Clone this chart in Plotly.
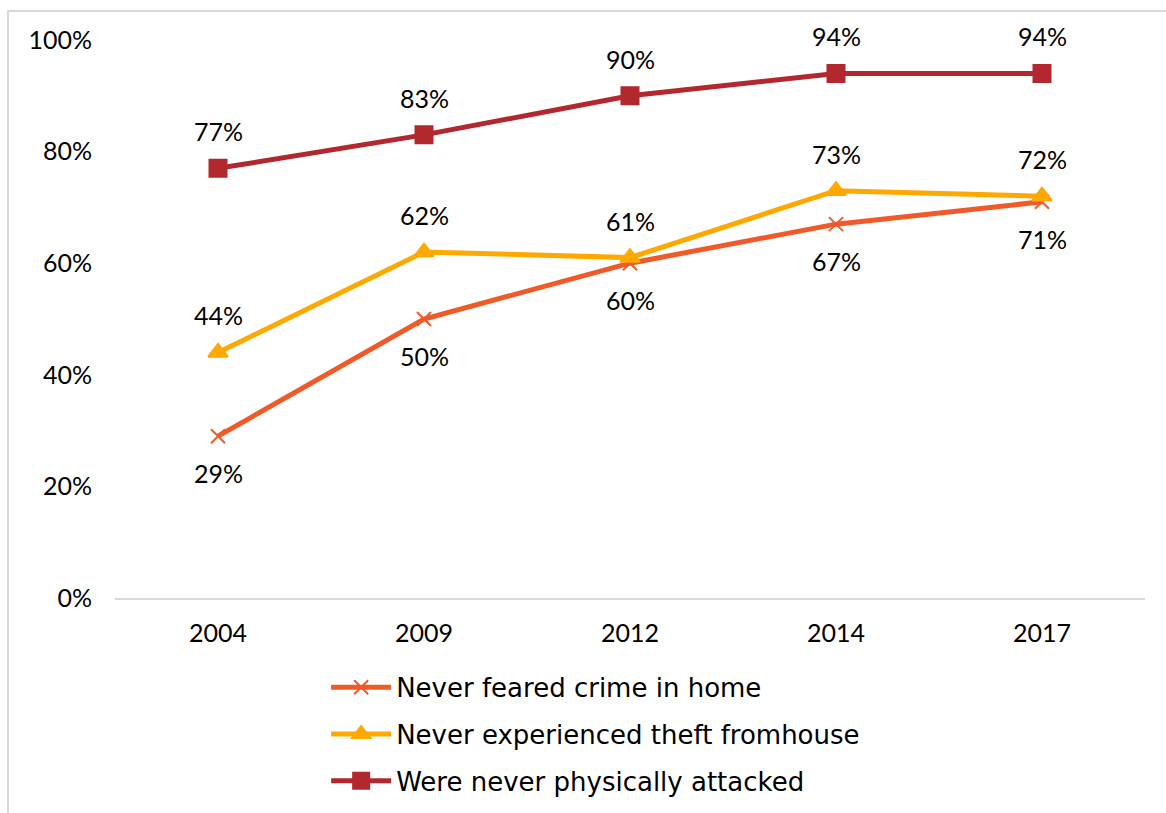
import plotly.graph_objects as go

years = ["2004", "2009", "2012", "2014", "2017"]
feared_crime = [29, 50, 60, 67, 71]
theft = [44, 62, 61, 73, 72]
attacked = [77, 83, 90, 94, 94]
y_ticks = [0, 20, 40, 60, 80, 100]

series = [
    ("Never feared crime in home", feared_crime, "#F05A28", "x-thin", 14, -1),
    ("Never experienced theft fromhouse", theft, "#FFA800", "triangle-up", 17, 1),
    ("Were never physically attacked", attacked, "#B3282E", "square", 17, 1),
]

FONT = "Lato, 'DejaVu Sans', sans-serif"
LEGEND_FONT = "'DejaVu Sans', sans-serif"

fig = go.Figure()
annotations = []
for name, vals, color, symbol, size, side in series:
    fig.add_trace(go.Scatter(
        x=years, y=vals, name=name, mode="lines+markers",
        legendgroup=name,
        line=dict(color=color, width=5),
        marker=dict(symbol=symbol, size=size, color=color,
                    line=dict(color=color, width=2)),
    ))
    # value labels above / below each point (category index on the x axis)
    for i, v in enumerate(vals):
        annotations.append(dict(
            x=i, y=v, xref="x", yref="y", text=f"{v}%", showarrow=False,
            yshift=37 * side, font=dict(size=25, color="#000000", family=FONT),
        ))

fig.update_layout(
    width=1166, height=813,
    margin=dict(l=115, r=21, t=40, b=215, autoexpand=False),
    paper_bgcolor="white", plot_bgcolor="white",
    font=dict(family=FONT, size=25, color="#000000"),
    annotations=annotations,
    showlegend=True,
    legend=dict(
        x=0.205, y=-0.118, xanchor="left", yanchor="top",
        font=dict(size=26, color="#000000", family=LEGEND_FONT),
        tracegroupgap=10, itemwidth=60,
    ),
    shapes=[dict(
        type="rect", xref="paper", yref="paper",
        x0=-0.1039, x1=1.2, y0=-0.6, y1=1.0520,
        line=dict(color="#D9D9D9", width=2), fillcolor="rgba(0,0,0,0)",
        layer="below",
    )],
)
fig.update_xaxes(
    type="category", range=[-0.5, 4.5], showgrid=False,
    showline=True, linecolor="#D9D9D9", linewidth=2, ticks="",
    tickfont=dict(size=25), ticklabelstandoff=12,
)
fig.update_yaxes(
    range=[0, 100], tickvals=y_ticks, ticktext=[f"{t}%" for t in y_ticks],
    showgrid=False, zeroline=False, showline=False, ticks="",
    tickfont=dict(size=25), ticklabelstandoff=22,
)

fig.write_html("out.html")
